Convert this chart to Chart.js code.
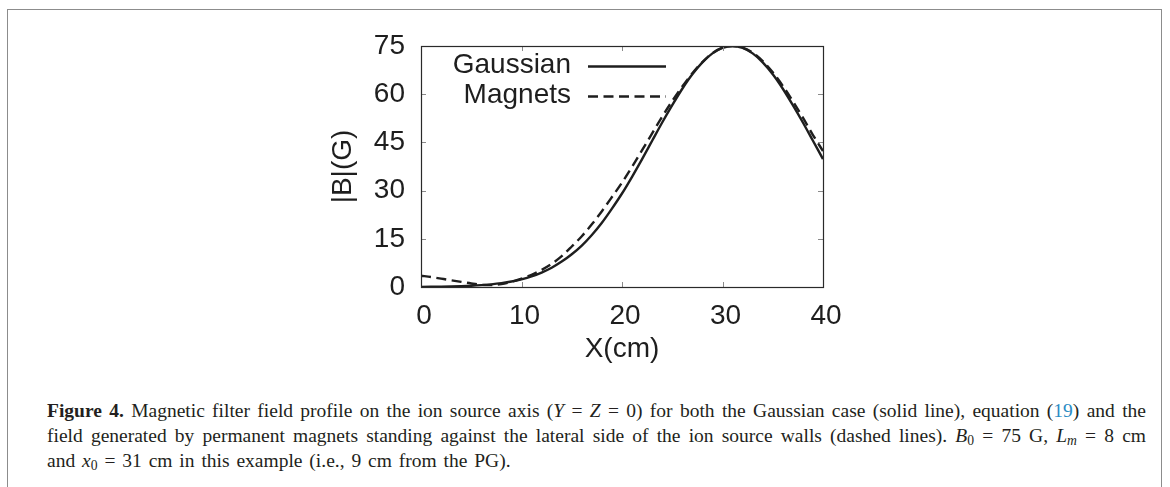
<!DOCTYPE html>
<html>
<head>
<meta charset="utf-8">
<script src="https://cdn.jsdelivr.net/npm/chart.js@4/dist/chart.umd.min.js"></script>
<style>
  html, body { margin: 0; padding: 0; background: #fff; }
  body { width: 1170px; height: 487px; overflow: hidden; position: relative; }
  #frame { position: absolute; left: 7px; top: 9px; width: 1155px; height: 520px;
           border: 1.5px solid #8c8c8c; border-bottom: none; box-sizing: border-box; }
  #wrap { position: absolute; left: 0; top: 0; width: 1170px; height: 380px; }
  #caption { position: absolute; left: 47px; top: 398px; width: 1099px;
             font-family: "Liberation Serif", "DejaVu Serif", serif; font-size: 19.5px; color: #231f20; }
  #caption .ln { height: 25px; line-height: 25px; text-align: justify; text-align-last: justify; }
  #caption .ln.last { text-align: left; text-align-last: left; word-spacing: 2px; }
  #caption sub { font-size: 0.7em; vertical-align: -0.25em; line-height: 0; }
  #caption .ref { color: #2b8cc4; }
</style>
</head>
<body>
<div id="frame"></div>
<div id="wrap"><canvas id="c"></canvas></div>
<div id="caption">
  <div class="ln"><b>Figure 4.</b> Magnetic filter field profile on the ion source axis (<i>Y</i> = <i>Z</i> = 0) for both the Gaussian case (solid line), equation (<span class="ref">19</span>) and the</div>
  <div class="ln">field generated by permanent magnets standing against the lateral side of the ion source walls (dashed lines). <i>B</i><sub>0</sub> = 75 G, <i>L<sub>m</sub></i> = 8 cm</div>
  <div class="ln last">and <i>x</i><sub>0</sub> = 31 cm in this example (i.e., 9 cm from the PG).</div>
</div>
<script>
// ---- data ----
const xPositions = [0,1,2,3,4,5,6,7,8,9,10,11,12,13,14,15,16,17,18,19,20,21,22,23,24,25,26,27,28,29,30,31,32,33,34,35,36,37,38,39,40];
const gaussianField = [0.04,0.07,0.10,0.16,0.25,0.38,0.57,0.83,1.2,1.7,2.4,3.3,4.5,6.0,7.9,10.2,12.9,16.2,20.0,24.4,29.1,34.3,39.8,45.5,51.2,56.6,61.7,66.2,69.9,72.7,74.4,75.0,74.4,72.7,69.9,66.2,61.7,56.6,51.2,45.5,39.8];
const magnetsField = [3.5,3.1,2.6,2.1,1.6,1.1,0.7,0.6,0.9,1.6,2.6,3.8,5.3,7.2,9.6,12.6,15.8,19.5,23.6,28.0,32.5,37.4,42.6,47.8,53.0,57.9,62.4,66.5,70.0,72.8,74.5,75.0,74.5,72.9,70.3,66.8,62.6,57.8,52.7,47.3,42.3];
const seriesNames = ["Gaussian", "Magnets"];
const xTickValues = [0, 10, 20, 30, 40];
const yTickValues = [0, 15, 30, 45, 60, 75];
const xTitle = "X(cm)";
const yTitle = "|B|(G)";

const FONT = "'Liberation Sans', Arial, Helvetica, sans-serif";
const FS = 28;
const INK = "#1e1e1e";

const toPoints = (ys) => xPositions.map((x, i) => ({ x: x, y: ys[i] }));

const frameAndTicks = {
  id: 'frameAndTicks',
  afterDatasetsDraw(chart) {
    const { ctx, chartArea: a, scales } = chart;
    ctx.save();
    ctx.strokeStyle = "#8a8a8a";
    ctx.lineWidth = 1;
    const tl = 5;
    scales.x.ticks.forEach(t => {
      const px = Math.round(scales.x.getPixelForValue(t.value)) + 0.5;
      if (px <= a.left + 1 || px >= a.right - 1) return;
      ctx.beginPath();
      ctx.moveTo(px, a.bottom); ctx.lineTo(px, a.bottom - tl);
      ctx.moveTo(px, a.top); ctx.lineTo(px, a.top + tl);
      ctx.stroke();
    });
    scales.y.ticks.forEach(t => {
      const py = Math.round(scales.y.getPixelForValue(t.value)) + 0.5;
      if (py <= a.top + 1 || py >= a.bottom - 1) return;
      ctx.beginPath();
      ctx.moveTo(a.left, py); ctx.lineTo(a.left + tl, py);
      ctx.moveTo(a.right, py); ctx.lineTo(a.right - tl, py);
      ctx.stroke();
    });
    ctx.strokeStyle = "#2a2a2a";
    ctx.lineWidth = 1.2;
    ctx.strokeRect(Math.round(a.left) + 0.5, Math.round(a.top) + 0.5,
                   Math.round(a.right - a.left), Math.round(a.bottom - a.top));
    ctx.restore();
  }
};

const keyBox = {
  id: 'keyBox',
  afterDraw(chart) {
    const { ctx, chartArea: a } = chart;
    ctx.save();
    ctx.font = FS + "px " + FONT;
    ctx.textAlign = "right";
    ctx.textBaseline = "middle";
    chart.data.datasets.forEach((ds, i) => {
      const y = a.top + 19.5 + i * 30;
      ctx.fillStyle = INK;
      ctx.fillText(ds.label, a.left + 150, y);
      ctx.strokeStyle = ds.borderColor;
      ctx.lineWidth = ds.borderWidth;
      ctx.setLineDash(ds.borderDash || []);
      ctx.beginPath();
      ctx.moveTo(a.left + 167, y + 1);
      ctx.lineTo(a.left + 245, y + 1);
      ctx.stroke();
    });
    ctx.restore();
  }
};

new Chart(document.getElementById('c'), {
  type: 'line',
  data: {
    datasets: [
      { label: seriesNames[0], data: toPoints(gaussianField), borderColor: INK, borderWidth: 2.4,
        pointRadius: 0, cubicInterpolationMode: 'monotone', fill: false },
      { label: seriesNames[1], data: toPoints(magnetsField), borderColor: INK, borderWidth: 2.4,
        borderDash: [10, 5.5], pointRadius: 0, cubicInterpolationMode: 'monotone', fill: false }
    ]
  },
  options: {
    responsive: true,
    maintainAspectRatio: false,
    animation: false,
    events: [],
    layout: { padding: { left: 326, right: 347, top: 46, bottom: 14 } },
    plugins: { legend: { display: false }, tooltip: { enabled: false } },
    scales: {
      x: {
        type: 'linear', min: xTickValues[0], max: xTickValues[xTickValues.length - 1],
        afterBuildTicks: (s) => { s.ticks = xTickValues.map(v => ({ value: v })); },
        afterFit: (s) => { s.height = 79; },
        grid: { display: false, drawTicks: false },
        border: { display: false },
        ticks: { color: INK, font: { family: FONT, size: FS }, padding: 12, labelOffset: 3, maxRotation: 0 },
        title: { display: true, text: xTitle, color: INK, font: { family: FONT, size: FS }, padding: 0 }
      },
      y: {
        type: 'linear', min: yTickValues[0], max: yTickValues[yTickValues.length - 1],
        afterBuildTicks: (s) => { s.ticks = yTickValues.map(v => ({ value: v })); },
        afterFit: (s) => { s.width = 95; },
        grid: { display: false, drawTicks: false },
        border: { display: false },
        ticks: { color: INK, font: { family: FONT, size: FS }, padding: 16 },
        title: { display: true, text: yTitle, color: INK, font: { family: FONT, size: FS }, padding: 0 }
      }
    }
  },
  plugins: [frameAndTicks, keyBox]
});
</script>
</body>
</html>
